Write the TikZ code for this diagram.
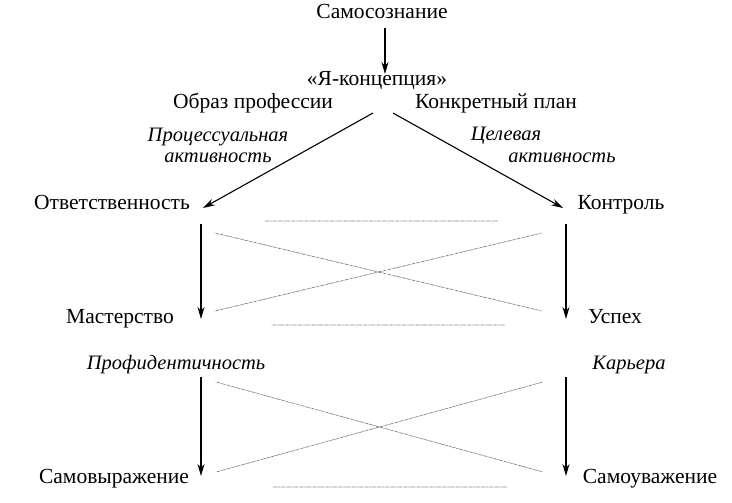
\documentclass[tikz,border=0pt]{standalone}
\usepackage{fontspec}
\setmainfont{Liberation Serif}
\usetikzlibrary{arrows.meta}
\tikzset{
  lbl/.style={inner sep=0pt, anchor=base, font=\fontsize{21.5}{24}\selectfont},
  ilbl/.style={inner sep=0pt, anchor=base, font=\fontsize{20.5}{24}\selectfont\itshape},
  arr/.style={draw=black, line width=1.1pt, -{Stealth[length=12pt,width=7pt]}},
  dots/.style={draw=black!65, line width=0.9pt, line cap=round, dash pattern=on 0pt off 1.3pt},
}
\begin{document}
\begin{tikzpicture}[x=1pt,y=-1pt]
\useasboundingbox (0,0) rectangle (732,503);
% text nodes
\node[lbl] (samo) at (382,19) {Самосознание};
\node[lbl] (ya) at (377,85) {«Я-концепция»};
\node[lbl] (obraz) at (253,109) {Образ профессии};
\node[lbl] (plan) at (496,109) {Конкретный план};
\node[ilbl] (proc1) at (218,142) {Процессуальная};
\node[ilbl] (proc2) at (218,163) {активность};
\node[ilbl] (cel) at (506,140) {Целевая};
\node[ilbl] (akt) at (562,163) {активность};
\node[lbl] (otv) at (112,209) {Ответственность};
\node[lbl] (kontr) at (621,209) {Контроль};
\node[lbl] (master) at (120,323) {Мастерство};
\node[lbl] (uspeh) at (615,323) {Успех};
\node[ilbl] (profid) at (176,369) {Профидентичность};
\node[ilbl] (karera) at (629,369) {Карьера};
\node[lbl] (samovyr) at (114,483) {Самовыражение};
\node[lbl] (samouv) at (650,483) {Самоуважение};
% connector end points
\coordinate (a1) at (385,28);  \coordinate (a2) at (385,74);
\coordinate (b0) at (373,113); \coordinate (b1) at (203,208);
\coordinate (c0) at (393,113); \coordinate (c1) at (563,208);
\coordinate (l1) at (201,224); \coordinate (l2) at (201,319);
\coordinate (r1) at (566,224); \coordinate (r2) at (566,319);
\coordinate (l3) at (201,377); \coordinate (l4) at (201,476);
\coordinate (r3) at (566,377); \coordinate (r4) at (566,476);
\coordinate (h1a) at (265,221); \coordinate (h1b) at (498,221);
\coordinate (h2a) at (272,325); \coordinate (h2b) at (505,325);
\coordinate (h3a) at (273,487); \coordinate (h3b) at (507,487);
\coordinate (x1a) at (215,233); \coordinate (x1b) at (542,311);
\coordinate (x2a) at (215,311); \coordinate (x2b) at (542,233);
\coordinate (x3a) at (216,382); \coordinate (x3b) at (543,472);
\coordinate (x4a) at (216,472); \coordinate (x4b) at (543,382);
% arrows
\draw[arr] (a1) -- (a2);
\draw[arr] (b0) -- (b1);
\draw[arr] (c0) -- (c1);
\draw[arr] (l1) -- (l2);
\draw[arr] (r1) -- (r2);
\draw[arr] (l3) -- (l4);
\draw[arr] (r3) -- (r4);
% dotted
\draw[dots] (h1a) -- (h1b);
\draw[dots] (h2a) -- (h2b);
\draw[dots] (h3a) -- (h3b);
\draw[dots] (x1a) -- (x1b);
\draw[dots] (x2a) -- (x2b);
\draw[dots] (x3a) -- (x3b);
\draw[dots] (x4a) -- (x4b);
\end{tikzpicture}
\end{document}
